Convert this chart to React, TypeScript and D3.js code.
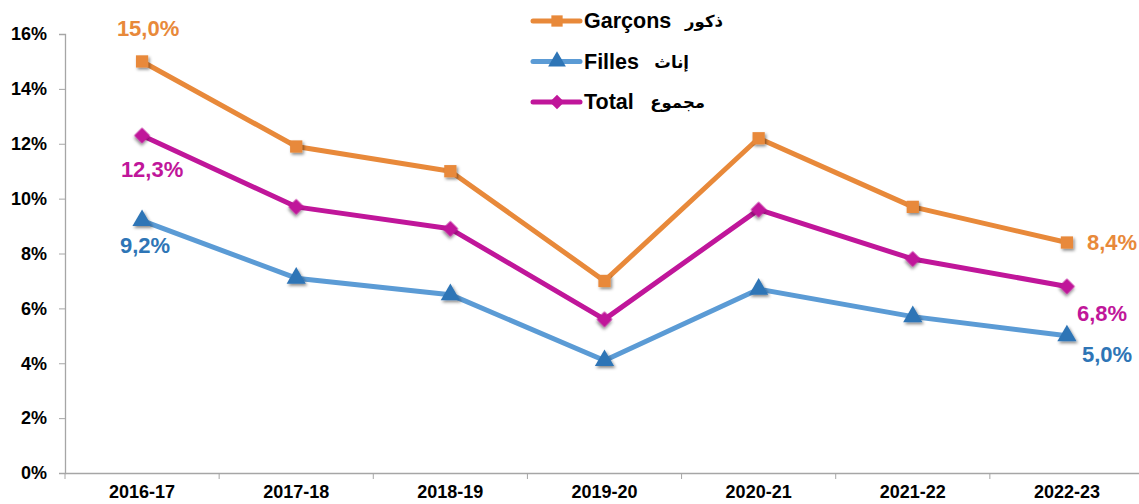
import React, { useEffect, useRef } from 'react';
import * as d3 from 'd3';

const years = ['2016-17', '2017-18', '2018-19', '2019-20', '2020-21', '2021-22', '2022-23'];
const garcons = [15.0, 11.9, 11.0, 7.0, 12.2, 9.7, 8.4];
const filles = [9.2, 7.1, 6.5, 4.1, 6.7, 5.7, 5.0];
const total = [12.3, 9.7, 8.9, 5.6, 9.6, 7.8, 6.8];
const yTicks = [0, 2, 4, 6, 8, 10, 12, 14, 16];

const width = 1139;
const height = 504;
const margin = { top: 34, right: -5, bottom: 31, left: 65 };

const App = () => {
  const ref = useRef<SVGSVGElement>(null);

  useEffect(() => {
    const svg = d3.select(ref.current);
    svg.selectAll('*').remove();

    const innerW = width - margin.left - margin.right;
    const innerH = height - margin.top - margin.bottom;

    const defs = svg.append('defs');
    const f = defs.append('filter').attr('id', 'shadow').attr('x', '-50%').attr('y', '-50%').attr('width', '200%').attr('height', '200%');
    f.append('feDropShadow').attr('dx', 1.5).attr('dy', 2).attr('stdDeviation', 1.5).attr('flood-color', '#000').attr('flood-opacity', 0.45);

    const g = svg.append('g').attr('transform', `translate(${margin.left},${margin.top})`);

    const x = d3.scaleBand().domain(years).range([0, innerW]);
    const y = d3.scaleLinear().domain([0, 16]).range([innerH, 0]);

    // y axis
    const yAxis = g.append('g').call(
      d3.axisLeft(y).tickValues(yTicks).tickSize(6).tickPadding(12).tickFormat(d => `${d}%`)
    );
    yAxis.select('.domain').attr('stroke', '#a6a6a6').attr('stroke-width', 1.3);
    yAxis.selectAll('line').attr('stroke', '#a6a6a6');
    yAxis.selectAll('text')
      .attr('fill', '#000')
      .style('font-family', '"Liberation Sans", Arial, sans-serif')
      .style('font-size', '18px')
      .style('font-weight', 'bold');

    // x axis
    const xAxis = g.append('g').attr('transform', `translate(0,${innerH})`).call(
      d3.axisBottom(x).tickSize(0).tickPadding(12)
    );
    xAxis.select('.domain').attr('stroke', '#a6a6a6').attr('stroke-width', 1.3);
    xAxis.selectAll('text')
      .attr('fill', '#000')
      .style('font-family', '"Liberation Sans", Arial, sans-serif')
      .style('font-size', '18px')
      .style('font-weight', 'bold');
    g.append('g').selectAll('line')
      .data(years)
      .enter().append('line')
      .attr('x1', d => x(d)!)
      .attr('x2', d => x(d)!)
      .attr('y1', innerH)
      .attr('y2', innerH + 6)
      .attr('stroke', '#a6a6a6');

    const cx = (i: number) => x(years[i])! + x.bandwidth() / 2;

    const series = [
      { name: 'Garçons', arabic: 'ذكور', values: garcons, line: '#E8893A', marker: '#E8893A', label: '#E8893A', shape: d3.symbolSquare, size: 150, rot: 0 },
      { name: 'Filles', arabic: 'إناث', values: filles, line: '#5B9BD5', marker: '#2E75B6', label: '#2E75B6', shape: d3.symbolTriangle, size: 160, rot: 0 },
      { name: 'Total', arabic: 'مجموع', values: total, line: '#C0169A', marker: '#C0169A', label: '#C0169A', shape: d3.symbolSquare, size: 125, rot: 45 }
    ];

    const line = d3.line<number>().x((_, i) => cx(i)).y(d => y(d));

    series.forEach(s => {
      g.append('path')
        .datum(s.values)
        .attr('d', line)
        .attr('fill', 'none')
        .attr('stroke', s.line)
        .attr('stroke-width', 5)
        .attr('stroke-linejoin', 'round');

      g.append('g').selectAll('path')
        .data(s.values)
        .enter().append('path')
        .attr('d', d3.symbol().type(s.shape).size(s.size)())
        .attr('transform', (d, i) => `translate(${cx(i)},${y(d)}) rotate(${s.rot})`)
        .attr('fill', s.marker)
        .attr('filter', 'url(#shadow)');
    });

    // data labels (first and last points)
    const labelFont = (sel: any) => sel
      .style('font-family', '"Liberation Sans", Arial, sans-serif')
      .style('font-size', '22px')
      .style('font-weight', 'bold');

    const labels = [
      { s: 0, i: 0, dx: 6, dy: -25, anchor: 'middle' },
      { s: 2, i: 0, dx: 10, dy: 41, anchor: 'middle' },
      { s: 1, i: 0, dx: 3, dy: 32, anchor: 'middle' },
      { s: 0, i: 6, dx: 20, dy: 7, anchor: 'start' },
      { s: 2, i: 6, dx: 10, dy: 35, anchor: 'start' },
      { s: 1, i: 6, dx: 15, dy: 26, anchor: 'start' }
    ];
    labels.forEach(l => {
      const s = series[l.s];
      const v = s.values[l.i];
      g.append('text')
        .attr('x', cx(l.i) + l.dx)
        .attr('y', y(v) + l.dy)
        .attr('text-anchor', l.anchor)
        .attr('fill', s.label)
        .call(labelFont)
        .text(`${v.toFixed(1).replace('.', ',')}%`);
    });

    // legend
    const legend = svg.append('g').attr('transform', 'translate(533,21)');
    series.forEach((s, k) => {
      const row = legend.append('g').attr('transform', `translate(0,${k * 40.5})`);
      row.append('line')
        .attr('x1', 0).attr('x2', 47)
        .attr('stroke', s.line).attr('stroke-width', 5).attr('stroke-linecap', 'round');
      row.append('path')
        .attr('d', d3.symbol().type(s.shape).size(s.size * 0.85)())
        .attr('transform', `translate(24,0) rotate(${s.rot})`)
        .attr('fill', s.marker);
      row.append('text')
        .attr('x', 51).attr('y', 7)
        .attr('fill', '#000')
        .style('font-family', '"Liberation Sans", Arial, sans-serif')
        .style('font-size', '21.5px')
        .style('font-weight', 'bold')
        .text(s.name);
      row.append('text')
        .attr('x', k === 0 ? 190 : k === 1 ? 156 : 172)
        .attr('y', 6)
        .attr('text-anchor', 'end')
        .attr('fill', '#000')
        .style('font-family', '"DejaVu Sans", sans-serif')
        .style('font-size', '16.5px')
        .style('font-weight', 'bold')
        .text(s.arabic);
    });
  }, []);

  return (
    <svg
      ref={ref}
      width={width}
      height={height}
      style={{ position: 'absolute', left: 0, top: 0, background: '#fff' }}
    />
  );
};

export default App;
